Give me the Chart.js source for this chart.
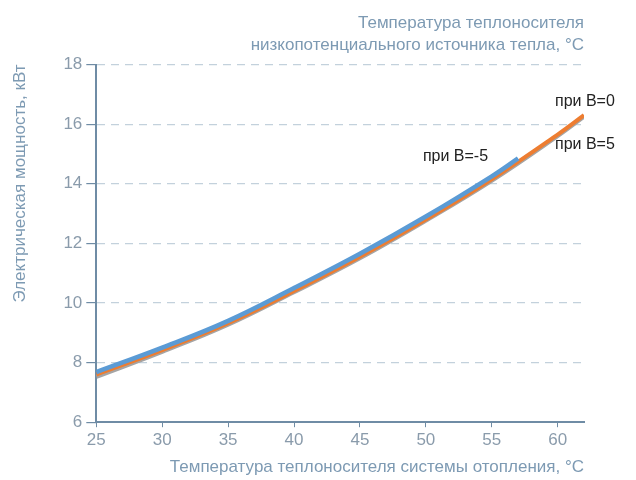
<!DOCTYPE html>
<html>
<head>
<meta charset="utf-8">
<script src="https://cdn.jsdelivr.net/npm/chart.js@4.4.0/dist/chart.umd.min.js"></script>
<style>
  html, body { margin: 0; padding: 0; background: #fff; }
  #wrap { width: 636px; height: 480px; }
</style>
</head>
<body>
<div id="wrap"><canvas id="c"></canvas></div>
<script>
// heating water temperature, °C
const tempMinus5 = [25, 30, 35, 40, 45, 50, 55, 57];
const powerMinus5 = [7.68, 8.5, 9.4, 10.5, 11.65, 12.9, 14.25, 14.85];

const temp0 = [25, 30, 35, 40, 45, 50, 55, 60, 62];
const power0 = [7.6, 8.42, 9.32, 10.4, 11.55, 12.8, 14.15, 15.65, 16.3];

const temp5 = [25, 30, 35, 40, 45, 50, 55, 60, 62];
const power5 = [7.52, 8.36, 9.27, 10.36, 11.5, 12.76, 14.1, 15.6, 16.25];

const seriesLabels = ["при B=-5", "при B=0", "при B=5"];
const xTicks = [25, 30, 35, 40, 45, 50, 55, 60];
const yTicks = [6, 8, 10, 12, 14, 16, 18];

const axisColor = "#6f8ca5";
const titleColor = "#7d9ab3";
const tickColor = "#8a9bab";
const fontFamily = "'Liberation Sans', Arial, sans-serif";

function toPoints(xs, ys) {
  var pts = [];
  for (var i = 0; i < xs.length; i++) pts.push({ x: xs[i], y: ys[i] });
  return pts;
}

// labels for the curves, drawn next to their last point
const curveLabels = {
  id: "curveLabels",
  afterDatasetsDraw(chart) {
    const ctx = chart.ctx;
    ctx.save();
    ctx.font = "16px " + fontFamily;
    ctx.fillStyle = "#222";
    ctx.textBaseline = "middle";
    var m0 = chart.getDatasetMeta(0).data;
    var p = m0[m0.length - 1];
    ctx.textAlign = "right";
    ctx.fillText(seriesLabels[0], p.x - 30, p.y - 2);
    var m1 = chart.getDatasetMeta(1).data;
    p = m1[m1.length - 1];
    ctx.textAlign = "left";
    ctx.fillText(seriesLabels[1], p.x - 29, p.y - 14);
    var m2 = chart.getDatasetMeta(2).data;
    p = m2[m2.length - 1];
    ctx.fillText(seriesLabels[2], p.x - 29, p.y + 28);
    ctx.restore();
  },
};

Chart.defaults.font.family = fontFamily;
Chart.defaults.font.size = 17;

new Chart(document.getElementById("c"), {
  type: "line",
  data: {
    datasets: [
      {
        label: seriesLabels[0],
        data: toPoints(tempMinus5, powerMinus5),
        borderColor: "#5b9bd5",
        borderWidth: 4.5,
        pointRadius: 0,
        tension: 0.4,
        order: 0,
      },
      {
        label: seriesLabels[1],
        data: toPoints(temp0, power0),
        borderColor: "#ed7d31",
        borderWidth: 4,
        pointRadius: 0,
        tension: 0.4,
        order: 1,
      },
      {
        label: seriesLabels[2],
        data: toPoints(temp5, power5),
        borderColor: "#a5a5a5",
        borderWidth: 4,
        pointRadius: 0,
        tension: 0.4,
        order: 2,
      },
    ],
  },
  options: {
    responsive: true,
    maintainAspectRatio: false,
    animation: false,
    layout: { padding: { left: 10, right: 52, top: 9, bottom: 2 } },
    plugins: {
      legend: { display: false },
      tooltip: { enabled: false },
      title: {
        display: true,
        text: ["Температура теплоносителя", "низкопотенциального источника тепла, °C"],
        align: "end",
        color: titleColor,
        font: { size: 17, weight: "normal", lineHeight: 1.25 },
        padding: { top: 4, bottom: 9 },
      },
    },
    scales: {
      x: {
        type: "linear",
        min: 25,
        max: 62,
        afterBuildTicks: function (axis) {
          axis.ticks = xTicks.map(function (v) { return { value: v }; });
        },
        border: { display: true, color: axisColor, width: 2 },
        grid: {
          drawOnChartArea: false,
          drawTicks: true,
          tickLength: 5,
          tickColor: axisColor,
        },
        ticks: {
          autoSkip: false,
          maxRotation: 0,
          color: tickColor,
          padding: 3,
        },
        title: {
          display: true,
          text: "Температура теплоносителя системы отопления, °C",
          align: "end",
          color: titleColor,
          font: { size: 17 },
          padding: { top: 4, bottom: 0 },
        },
      },
      y: {
        min: 6,
        max: 18,
        afterBuildTicks: function (axis) {
          axis.ticks = yTicks.map(function (v) { return { value: v }; });
        },
        border: { display: true, color: axisColor, width: 2, dash: [8, 6] },
        grid: {
          color: function (c) { return c.tick && c.tick.value === 6 ? "rgba(0,0,0,0)" : "#c3d1dc"; },
          lineWidth: 1.2,
          drawTicks: true,
          tickLength: 10,
          tickColor: axisColor,
          tickBorderDash: [],
        },
        ticks: {
          color: tickColor,
          padding: 4,
        },
        title: {
          display: true,
          text: "Электрическая мощность, кВт",
          align: "end",
          color: titleColor,
          font: { size: 17 },
          padding: { top: 0, bottom: 29 },
        },
      },
    },
  },
  plugins: [curveLabels],
});
</script>
</body>
</html>
